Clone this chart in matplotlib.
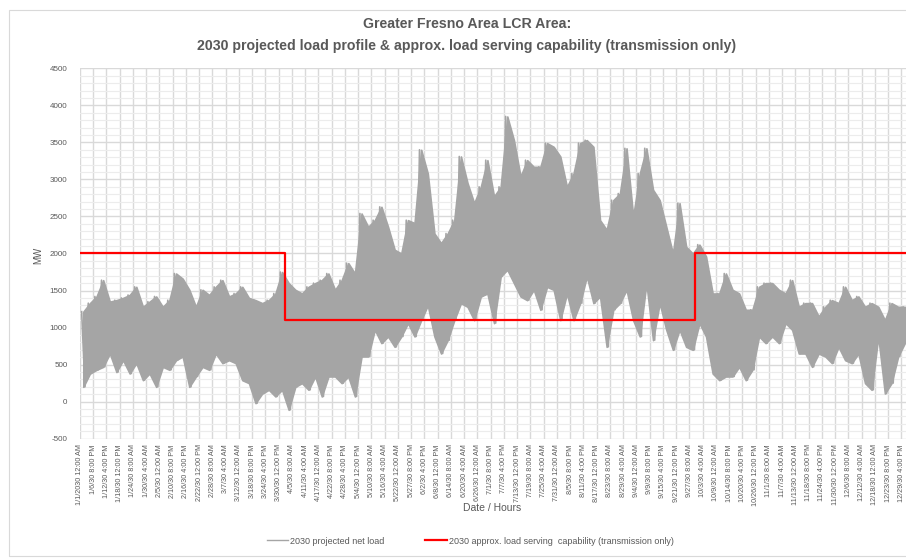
#!/usr/bin/env python3

import numpy
from matplotlib import pyplot
from matplotlib.patches import Rectangle


BLOCK_HOURS = 70
LOAD_HIGH = [
	1215, 1330, 1420, 1640, 1350, 1370, 1400, 1440, 1550, 1280,
	1350, 1420, 1280, 1370, 1730, 1660, 1510, 1280, 1510, 1440,
	1550, 1640, 1420, 1460, 1550, 1400, 1370, 1330, 1370, 1460,
	1750, 1600, 1510, 1460, 1550, 1600, 1640, 1730, 1510, 1640,
	1870, 1730, 2540, 2360, 2450, 2630, 2360, 2050, 2000, 2450,
	2410, 3400, 3080, 2270, 2140, 2270, 2450, 3310, 2950, 2680,
	2900, 3260, 2770, 2900, 3850, 3530, 3040, 3260, 3170, 3170,
	3490, 3440, 3310, 2900, 3080, 3490, 3530, 3440, 2450, 2320,
	2720, 2810, 3420, 2500, 3080, 3420, 2860, 2720, 2360, 2000,
	2680, 2090, 2000, 2120, 1960, 1460, 1460, 1730, 1510, 1460,
	1240, 1240, 1550, 1600, 1600, 1510, 1460, 1640, 1280, 1330,
	1330, 1150, 1280, 1370, 1330, 1550, 1370, 1420, 1280, 1330,
	1280, 1100, 1330, 1280, 1280,
]
LOAD_LOW = [
	200, 380, 430, 470, 650, 400, 560, 380, 520, 290,
	380, 200, 470, 430, 560, 610, 200, 340, 470, 430,
	650, 520, 560, 520, 290, 250, -20, 110, 160, 70,
	160, -110, 200, 250, 160, 340, 70, 340, 340, 250,
	340, 70, 610, 610, 970, 790, 880, 740, 880, 1060,
	880, 1100, 1300, 880, 650, 830, 1100, 1330, 1280, 1100,
	1420, 1460, 1060, 1690, 1780, 1600, 1420, 1370, 1510, 1240,
	1550, 1510, 1100, 1460, 1100, 1330, 1690, 1330, 1420, 740,
	1240, 1330, 1510, 1100, 880, 1600, 830, 1330, 970, 700,
	970, 740, 700, 1060, 880, 380, 290, 340, 340, 470,
	290, 430, 880, 790, 880, 790, 1060, 970, 650, 650,
	470, 650, 610, 520, 740, 560, 520, 650, 250, 160,
	880, 110, 250, 610, 790,
]

# load serving capability: hour where each level starts
CAP_START_HOURS = [0, 2170, 6500, 8760]
CAP_LEVELS = [2000, 1100, 2000]

TICK_STEP = 140
TICK_LABELS = [
	"1/1/2030 12:00 AM", "1/6/30 8:00 PM", "1/12/30 4:00 PM", "1/18/30 12:00 PM",
	"1/24/30 8:00 AM", "1/30/30 4:00 AM", "2/5/30 12:00 AM", "2/10/30 8:00 PM",
	"2/16/30 4:00 PM", "2/22/30 12:00 PM", "2/28/30 8:00 AM", "3/7/30 4:00 AM",
	"3/12/30 12:00 AM", "3/18/30 8:00 PM", "3/24/30 4:00 PM", "3/30/30 12:00 PM",
	"4/5/30 8:00 AM", "4/11/30 4:00 AM", "4/17/30 12:00 AM", "4/22/30 8:00 PM",
	"4/28/30 4:00 PM", "5/4/30 12:00 PM", "5/10/30 8:00 AM", "5/16/30 4:00 AM",
	"5/22/30 12:00 AM", "5/27/30 8:00 PM", "6/2/30 4:00 PM", "6/8/30 12:00 PM",
	"6/14/30 8:00 AM", "6/20/30 4:00 AM", "6/26/30 12:00 AM", "7/1/30 8:00 PM",
	"7/7/30 4:00 PM", "7/13/30 12:00 PM", "7/19/30 8:00 AM", "7/25/30 4:00 AM",
	"7/31/30 12:00 AM", "8/5/30 8:00 PM", "8/11/30 4:00 PM", "8/17/30 12:00 PM",
	"8/23/30 8:00 AM", "8/29/30 4:00 AM", "9/4/30 12:00 AM", "9/9/30 8:00 PM",
	"9/15/30 4:00 PM", "9/21/30 12:00 PM", "9/27/30 8:00 AM", "10/3/30 4:00 AM",
	"10/9/30 12:00 AM", "10/14/30 8:00 PM", "10/20/30 4:00 PM", "10/26/30 12:00 PM",
	"11/1/30 8:00 AM", "11/7/30 4:00 AM", "11/13/30 12:00 AM", "11/18/30 8:00 PM",
	"11/24/30 4:00 PM", "11/30/30 12:00 PM", "12/6/30 8:00 AM", "12/12/30 4:00 AM",
	"12/18/30 12:00 AM", "12/23/30 8:00 PM", "12/29/30 4:00 PM",
]

TITLE = "Greater Fresno Area LCR Area:\n2030 projected load profile & approx. load serving capability (transmission only)"
FONT = ["Liberation Sans", "DejaVu Sans"]
TEXT_COLOR = "#595959"
GRID_COLOR = "#D9D9D9"
LOAD_COLOR = "#A5A5A5"
CAP_COLOR = "#FF0000"


def plot_chart():
	pyplot.rcParams["font.family"] = FONT
	pyplot.rcParams["axes.unicode_minus"] = False
	figure = pyplot.figure(figsize = (9.06, 5.58), dpi = 100)
	figure.patches.append(Rectangle((0.010, 0.004), 1.2, 0.978, transform = figure.transFigure,
		fill = False, edgecolor = GRID_COLOR, linewidth = 0.8))
	ax = figure.add_axes([0.0883, 0.2138, 0.9117, 0.6638])

	# load band between block lows and highs, plus a high/low stroke per block
	hi = numpy.asarray(LOAD_HIGH, dtype = float)
	lo = numpy.asarray(LOAD_LOW, dtype = float)
	start = numpy.arange(len(hi)) * BLOCK_HOURS
	center = start + 0.5 * BLOCK_HOURS
	ax.fill_between(center, lo, hi, facecolor = LOAD_COLOR, edgecolor = LOAD_COLOR,
		linewidth = 1.2, zorder = 2)
	x = numpy.column_stack([start + 0.25 * BLOCK_HOURS, start + 0.75 * BLOCK_HOURS]).ravel()
	y = numpy.column_stack([hi, lo]).ravel()
	ax.plot(x, y, color = LOAD_COLOR, linewidth = 1.2, zorder = 3)
	ax.plot([], [], color = LOAD_COLOR, linewidth = 1.0, label = "2030 projected net load")

	# capability step line
	cap_y = CAP_LEVELS + [CAP_LEVELS[-1]]
	ax.step(CAP_START_HOURS, cap_y, where = "post", color = CAP_COLOR, linewidth = 1.6,
		zorder = 4, label = "2030 approx. load serving  capability (transmission only)")

	# axes
	ax.set_xlim(0, 8728)
	ax.set_ylim(-500, 4500)
	ax.set_yticks(numpy.arange(-500, 4501, 500))
	ax.set_yticks(numpy.arange(-500, 4501, 100), minor = True)
	ax.set_xticks(numpy.arange(len(TICK_LABELS)) * TICK_STEP)
	ax.set_xticklabels(TICK_LABELS, rotation = 90, fontsize = 5.2, color = TEXT_COLOR)
	for lbl in ax.get_yticklabels():
		lbl.set_fontsize(5.8)
		lbl.set_color(TEXT_COLOR)
	ax.tick_params(axis = "both", which = "both", length = 0)
	ax.tick_params(axis = "y", pad = 9)
	ax.tick_params(axis = "x", pad = 4)
	for sp in ax.spines.values():
		sp.set_visible(False)
	ax.grid(which = "major", color = GRID_COLOR, linewidth = 1.0, zorder = 0)
	ax.grid(which = "minor", axis = "y", color = "#ECECEC", linewidth = 0.8, zorder = 0)
	ax.set_axisbelow(True)

	figure.text(38 / 906, 1 - 255 / 558, "MW", rotation = 90, ha = "center", va = "center",
		fontsize = 7, color = TEXT_COLOR)
	figure.text(492 / 906, 1 - 508 / 558, "Date / Hours", ha = "center", va = "center",
		fontsize = 7.5, color = TEXT_COLOR)
	figure.text(467 / 906, 1 - 35 / 558, TITLE, ha = "center", va = "center",
		fontsize = 10.2, fontweight = "bold", color = TEXT_COLOR, linespacing = 1.7)

	figure.legend(loc = "center", bbox_to_anchor = (470 / 906, 1 - 541 / 558), ncol = 2,
		frameon = False, fontsize = 6.5, handlelength = 2.4, handletextpad = 0.2,
		columnspacing = 4.5, labelcolor = TEXT_COLOR)
	return figure


if __name__ == "__main__":
	plot_chart()
	pyplot.savefig("out.png", dpi = 100)
	pyplot.close()
